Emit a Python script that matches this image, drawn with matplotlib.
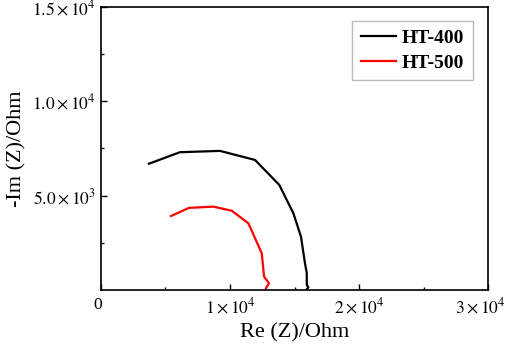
# Nyquist plot of HT-400 / HT-500 samples
import matplotlib
matplotlib.use("Agg")
import matplotlib.pyplot as plt
import matplotlib.transforms as mtransforms
from matplotlib.ticker import FixedLocator, FixedFormatter

# Data (Ohm)
ht400_re = [3720, 6120, 9220, 11940, 13820, 14910, 15500, 15810, 15950, 15950, 16070, 15950]
ht400_im = [6690, 7300, 7370, 6890, 5565, 4065, 2825, 1415, 885, 265, 143, 37]
ht500_re = [5430, 6820, 8710, 10130, 11420, 12460, 12640, 13020, 12790]
ht500_im = [3920, 4350, 4415, 4200, 3535, 1945, 705, 355, 90]

x_ticks = [0, 10000, 20000, 30000]
x_labels = ["0", r"$1\times10^{4}$", r"$2\times10^{4}$", r"$3\times10^{4}$"]
y_ticks = [5000, 10000, 15000]
y_labels = [r"$5.0\times10^{3}$", r"$1.0\times10^{4}$", r"$1.5\times10^{4}$"]

plt.rcParams["font.family"] = ["Liberation Serif", "DejaVu Serif"]
plt.rcParams["mathtext.fontset"] = "stix"

fig = plt.figure(figsize=(5.1, 3.46), dpi=100)
ax = fig.add_axes([0.198, 0.162, 0.759, 0.818])

# Curves
ax.plot(ht400_re, ht400_im, color="black", lw=1.6, label="HT-400")
ax.plot(ht500_re, ht500_im, color="red", lw=1.6, label="HT-500")

ax.set_xlim(0, 30000)
ax.set_ylim(0, 15000)

# Ticks
ax.xaxis.set_major_locator(FixedLocator(x_ticks))
ax.xaxis.set_major_formatter(FixedFormatter(x_labels))
ax.xaxis.set_minor_locator(FixedLocator([5000, 15000, 25000]))
ax.yaxis.set_major_locator(FixedLocator(y_ticks))
ax.yaxis.set_major_formatter(FixedFormatter(y_labels))
ax.yaxis.set_minor_locator(FixedLocator([2500, 7500, 12500]))
ax.tick_params(which="both", direction="in", top=False, right=False, labelsize=12.6)
ax.tick_params(which="major", length=4, width=1)
ax.tick_params(which="minor", length=2.5, width=1)
ax.tick_params(axis="x", which="major", pad=5)
for sp in ax.spines.values():
    sp.set_linewidth(1.2)

# Nudge the edge labels inward a bit, like the original
x_ticklabels = ax.get_xticklabels()
x_ticklabels[0].set_transform(x_ticklabels[0].get_transform() +
                              mtransforms.ScaledTranslation(-3 / 100, 0, fig.dpi_scale_trans))
x_ticklabels[-1].set_transform(x_ticklabels[-1].get_transform() +
                               mtransforms.ScaledTranslation(-8 / 100, 0, fig.dpi_scale_trans))

# Labels
ax.set_xlabel("Re (Z)/Ohm", fontsize=16, labelpad=5)
ax.set_ylabel("-Im (Z)/Ohm", fontsize=16, labelpad=4)

# Legend
leg = ax.legend(loc="upper right", bbox_to_anchor=(0.961, 0.951), borderaxespad=0,
                fancybox=False, prop={"weight": "bold", "size": 14}, handlelength=1.8,
                handletextpad=0.3, borderpad=0.45, labelspacing=0.35)
leg.get_frame().set_edgecolor("#aaaaaa")
leg.get_frame().set_linewidth(1.0)

fig.savefig("out.png", dpi=100)
